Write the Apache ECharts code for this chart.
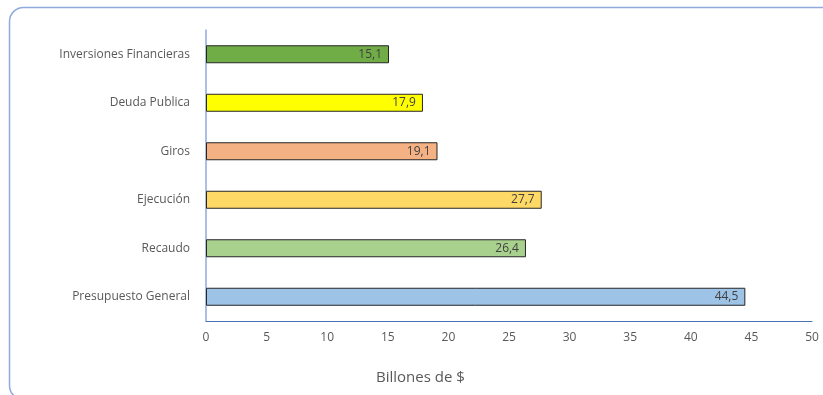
<!DOCTYPE html>
<html>
<head>
<meta charset="utf-8">
<script src="https://cdn.jsdelivr.net/npm/echarts@6/dist/echarts.min.js"></script>
<style>
  html, body { margin: 0; padding: 0; background: #fff; }
  #chart { width: 823px; height: 395px; }
</style>
</head>
<body>
<div id="chart"></div>
<script>
// Categories listed bottom to top (category axis starts at the bottom)
const categories = ['Presupuesto General', 'Recaudo', 'Ejecución', 'Giros', 'Deuda Publica', 'Inversiones Financieras'];
const values = [44.5, 26.4, 27.7, 19.1, 17.9, 15.1];
const barColors = ['#9DC3E6', '#A9D18E', '#FFD966', '#F4B183', '#FFFF00', '#70AD47'];
const xTicks = [0, 5, 10, 15, 20, 25, 30, 35, 40, 45, 50];
const axisTitle = 'Billones de $';

const fontFamily = '"Open Sans", "Liberation Sans", sans-serif';
const chart = echarts.init(document.getElementById('chart'), null, { renderer: 'canvas' });

chart.setOption({
  animation: false,
  backgroundColor: '#ffffff',
  grid: { left: 206, right: 11, top: 30, bottom: 74, containLabel: false },
  xAxis: {
    type: 'value',
    min: xTicks[0],
    max: xTicks[xTicks.length - 1],
    interval: xTicks[1] - xTicks[0],
    axisLine: { show: true, lineStyle: { color: '#4A6FB5', width: 1 } },
    axisTick: { show: false },
    splitLine: { show: false },
    axisLabel: {
      color: '#595959', fontSize: 12, fontFamily: fontFamily, margin: 11,
      formatter: v => String(v)
    }
  },
  yAxis: {
    type: 'category',
    data: categories,
    axisLine: { show: true, lineStyle: { color: '#8FAADC', width: 1.5 } },
    axisTick: { show: false },
    axisLabel: { color: '#595959', fontSize: 12, fontFamily: fontFamily, margin: 16 }
  },
  series: [{
    type: 'bar',
    barWidth: 18,
    data: values.map((v, i) => ({
      value: v,
      itemStyle: { color: barColors[i], borderColor: '#262626', borderWidth: 1 }
    })),
    label: {
      show: true,
      position: 'insideRight',
      distance: 7,
      color: '#404040',
      fontSize: 12,
      fontFamily: fontFamily,
      formatter: p => p.value.toFixed(1).replace('.', ',')
    }
  }],
  graphic: [
    {
      type: 'rect',
      left: 7, top: 5,
      shape: { width: 840, height: 392, r: 14 },
      style: { fill: 'none', stroke: '#8FAADC', lineWidth: 1.5 },
      silent: true
    },
    {
      type: 'text',
      left: 376, top: 370,
      style: { text: axisTitle, fill: '#595959', font: '15px ' + fontFamily }
    }
  ]
});
</script>
</body>
</html>
